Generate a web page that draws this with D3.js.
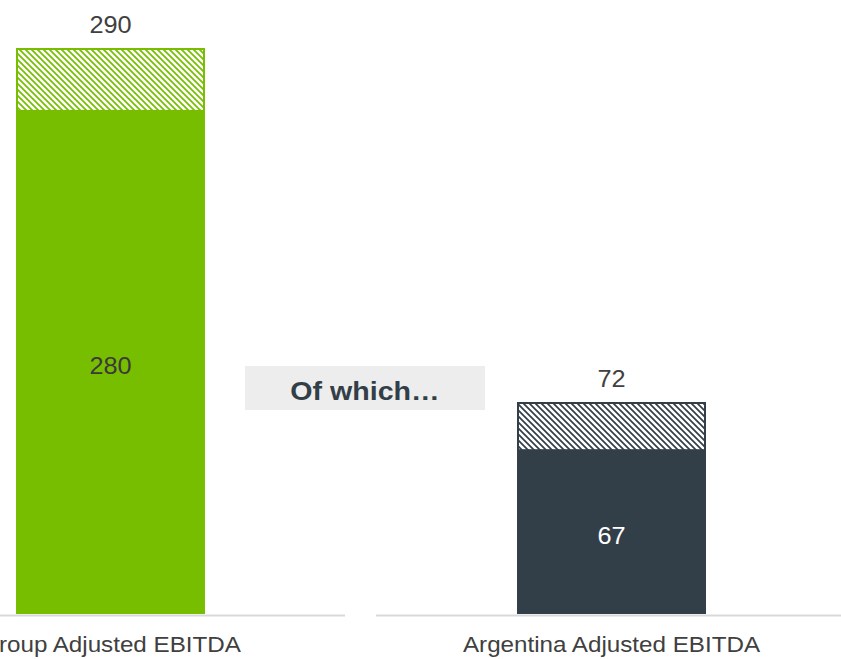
<!DOCTYPE html>
<html>
<head>
<meta charset="utf-8">
<script src="https://cdn.jsdelivr.net/npm/d3@7"></script>
<style>
  html, body { margin: 0; padding: 0; background: #ffffff; }
  svg { display: block; }
</style>
</head>
<body>
<svg id="chart" width="841" height="659"></svg>
<script>
// Adjusted EBITDA: group vs. Argentina, reported (solid) and total incl. hatched top-up
const categories = ["Group Adjusted EBITDA", "Argentina Adjusted EBITDA"];
const baseValues = [280, 67];
const totalValues = [290, 72];
const axisMins = [200, 50];
const barColors = ["#78be00", "#333f48"];
const baseLabelColors = ["#3a3a3a", "#ffffff"];
const calloutText = "Of which\u2026";

const svg = d3.select("#chart");
const baseline = 614;
const fontFamily = "Liberation Sans, Arial, sans-serif";
const stretch = 1.1; // slightly wide lettering

// one band per category; each category keeps its own truncated value axis
const x = d3.scaleBand()
  .domain(categories)
  .range([-140, 862])
  .paddingInner(0.6228)
  .paddingOuter(0.3114);

const panelTops = [48, 402];
const panelLines = [[0, 345], [376, 841]];

const defs = svg.append("defs");
barColors.forEach((c, i) => {
  const p = defs.append("pattern")
    .attr("id", "hatch" + i)
    .attr("patternUnits", "userSpaceOnUse")
    .attr("width", 6).attr("height", 6);
  p.append("rect").attr("width", 6).attr("height", 6).attr("fill", "#ffffff");
  p.append("path")
    .attr("d", "M-1,-1 L7,7 M-1,5 L1,7 M5,-1 L7,1")
    .attr("stroke", c).attr("stroke-width", 1.7);
});

function label(g, cx, cy, txt, size, color, weight) {
  g.append("text")
    .attr("transform", `translate(${cx},${cy}) scale(${stretch},1)`)
    .attr("text-anchor", "middle")
    .attr("font-family", fontFamily)
    .attr("font-size", size)
    .attr("font-weight", weight || "normal")
    .attr("fill", color)
    .text(txt);
}

categories.forEach((cat, i) => {
  const y = d3.scaleLinear()
    .domain([axisMins[i], totalValues[i]])
    .range([baseline, panelTops[i]]);
  const g = svg.append("g");

  // hatched top-up segment
  g.append("rect")
    .attr("x", x(cat) + 1)
    .attr("y", y(totalValues[i]) + 1)
    .attr("width", x.bandwidth() - 2)
    .attr("height", y(baseValues[i]) - y(totalValues[i]) - 1)
    .attr("fill", `url(#hatch${i})`)
    .attr("stroke", barColors[i])
    .attr("stroke-width", 2);

  // solid reported segment
  g.append("rect")
    .attr("x", x(cat))
    .attr("y", y(baseValues[i]))
    .attr("width", x.bandwidth())
    .attr("height", y(axisMins[i]) - y(baseValues[i]))
    .attr("fill", barColors[i]);

  // baseline
  g.append("line")
    .attr("x1", panelLines[i][0]).attr("x2", panelLines[i][1])
    .attr("y1", baseline + 1.5).attr("y2", baseline + 1.5)
    .attr("stroke", "#d9d9d9").attr("stroke-width", 2);

  const cx = x(cat) + x.bandwidth() / 2;
  label(g, cx, y(totalValues[i]) - 15, totalValues[i], 23, "#404040");
  label(g, cx, (y(baseValues[i]) + y(axisMins[i])) / 2 + 12, baseValues[i], 23, baseLabelColors[i]);
  label(g, cx, 652, cat, 22, "#404040");
});

// callout box between the two bars
const callout = svg.append("g");
callout.append("rect")
  .attr("x", 245).attr("y", 366).attr("width", 240).attr("height", 44)
  .attr("fill", "#ededed");
label(callout, 365, 399.5, calloutText, 26, "#333f48", "bold");
</script>
</body>
</html>
